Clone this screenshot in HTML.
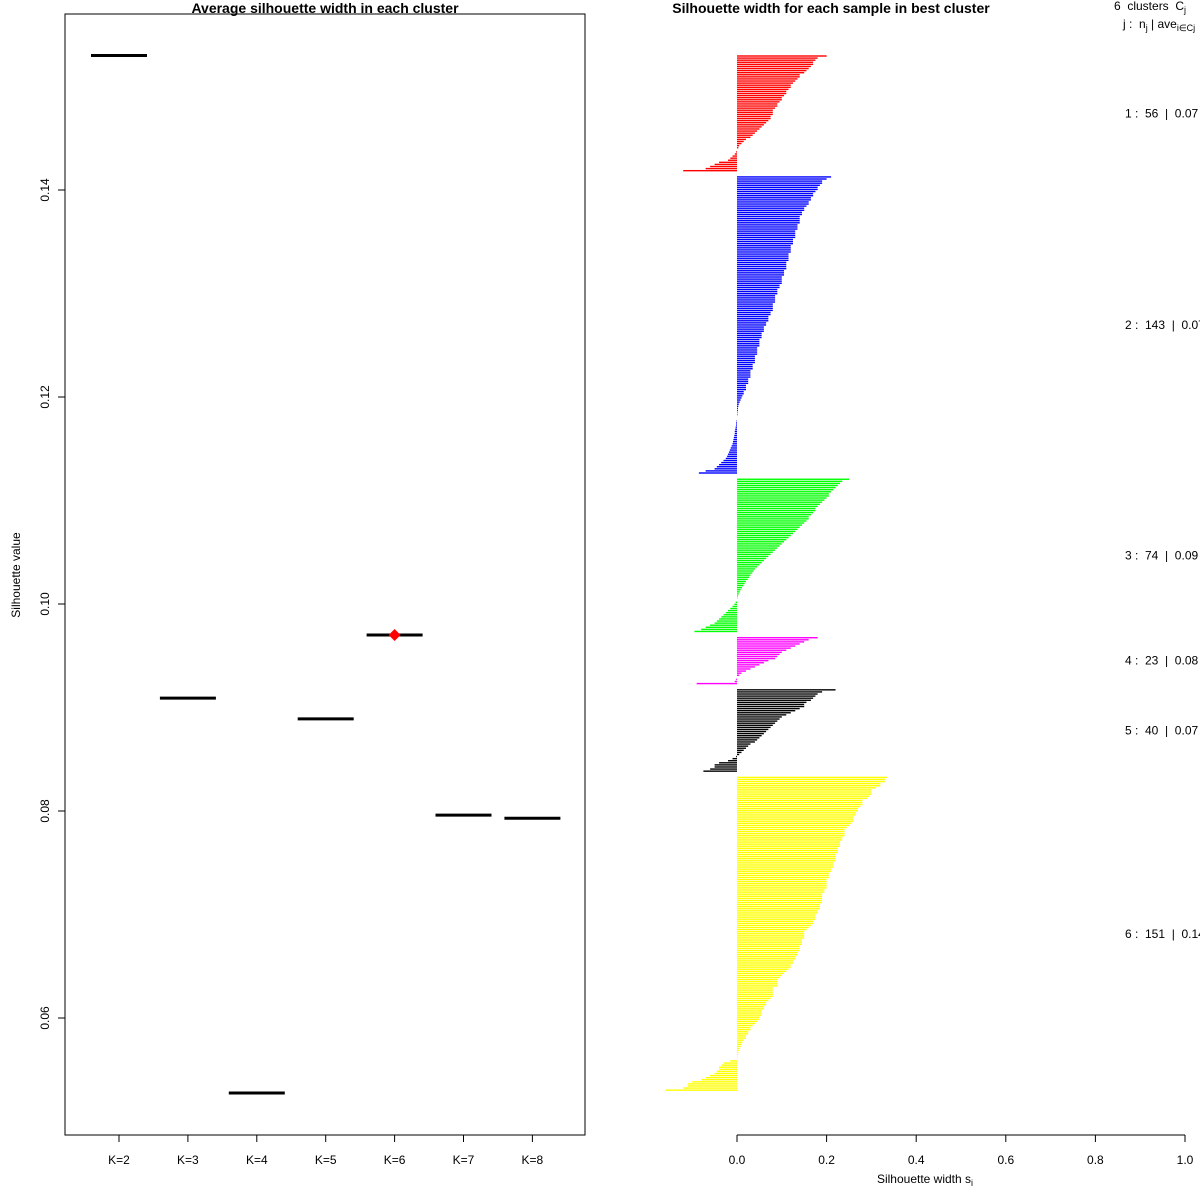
<!DOCTYPE html>
<html><head><meta charset="utf-8"><style>
body{margin:0;background:#fff;}
svg{display:block;font-family:"Liberation Sans",sans-serif;}
text{white-space:pre;}
</style></head><body>
<svg id="s" width="1200" height="1200" viewBox="0 0 1200 1200">
<rect width="1200" height="1200" fill="#fff"/>
<text x="325" y="13" text-anchor="middle" font-size="14" font-weight="bold">Average silhouette width in each cluster</text>
<rect x="65" y="14" width="520" height="1121" fill="none" stroke="#000" stroke-width="1"/>
<text transform="translate(20,575) rotate(-90)" text-anchor="middle" font-size="12">Silhouette value</text>
<g id="left"></g>
<text x="831" y="13" text-anchor="middle" font-size="14" font-weight="bold">Silhouette width for each sample in best cluster</text>
<text x="1114" y="10" font-size="12">6  clusters  C<tspan font-size="9" dy="3">j</tspan></text>
<text x="1123" y="28" font-size="12">j :  n<tspan font-size="9" dy="3">j</tspan><tspan dy="-3"> | ave</tspan><tspan font-size="9" dy="3">i∈Cj</tspan><tspan dy="-3">  s</tspan></text>
<g id="right"></g>
<text x="925" y="1183" text-anchor="middle" font-size="12">Silhouette width s<tspan font-size="9" dy="3">i</tspan></text>
</svg>
<script>
const kLabels=["K=2","K=3","K=4","K=5","K=6","K=7","K=8"];
const avgSil=[0.153,0.0909,0.05275,0.0889,0.0970,0.0796,0.0793];
const bestK=4;
const yTicks=[0.06,0.08,0.10,0.12,0.14];
const clusterIds=[1,2,3,4,5,6];
const clusterN=[56,143,74,23,40,151];
const clusterAvg=["0.07","0.07","0.09","0.08","0.07","0.14"];
const clusterColors=["#ff0000","#0000ff","#00ff00","#ff00ff","#000000","#ffff00"];
const c1=[.20,.18,.175,.17,.17,.165,.16,.155,.15,.14,.14,.135,.13,.125,.12,.12,.115,.11,.11,.105,.10,.10,.095,.09,.09,.085,.08,.08,.08,.075,.075,.07,.065,.06,.055,.05,.045,.04,.035,.03,.02,.015,.01,.005,.003,0,-.002,-.005,-.01,-.015,-.02,-.04,-.05,-.06,-.07,-.12];
const c2=[.21,.20,.19,.19,.185,.18,.18,.175,.17,.17,.165,.165,.16,.16,.155,.15,.15,.145,.145,.14,.14,.14,.14,.135,.135,.135,.13,.13,.13,.13,.125,.125,.125,.12,.12,.12,.12,.115,.115,.115,.115,.11,.11,.11,.11,.105,.105,.105,.10,.10,.10,.10,.095,.095,.09,.09,.09,.085,.085,.085,.085,.08,.08,.08,.08,.075,.075,.07,.07,.07,.065,.065,.06,.06,.06,.055,.055,.055,.05,.05,.05,.05,.045,.045,.045,.045,.04,.04,.04,.04,.035,.035,.035,.03,.03,.03,.03,.025,.025,.025,.02,.02,.02,.015,.015,.012,.01,.008,.006,.004,.003,.002,.002,.001,.001,0,0,-.001,-.002,-.002,-.003,-.004,-.005,-.005,-.006,-.007,-.008,-.009,-.01,-.012,-.014,-.016,-.018,-.02,-.022,-.025,-.03,-.035,-.04,-.045,-.05,-.07,-.085];
const c3=[.25,.235,.23,.225,.22,.215,.21,.205,.205,.20,.195,.19,.185,.18,.175,.175,.17,.165,.16,.16,.155,.15,.145,.14,.135,.13,.125,.12,.115,.11,.105,.10,.095,.09,.085,.08,.075,.07,.065,.06,.055,.05,.045,.04,.037,.034,.03,.027,.024,.02,.017,.014,.011,.008,.006,.004,.002,.001,0,-.003,-.006,-.01,-.015,-.02,-.025,-.03,-.035,-.04,-.045,-.05,-.06,-.07,-.08,-.095];
const c4=[.18,.16,.15,.14,.13,.12,.11,.10,.095,.09,.085,.07,.06,.05,.04,.03,.02,.01,.005,0,-.002,-.005,-.09];
const c5=[.22,.19,.18,.175,.17,.165,.155,.15,.15,.14,.13,.12,.11,.10,.095,.09,.085,.08,.075,.07,.065,.06,.055,.05,.045,.04,.03,.025,.02,.015,.01,.005,-.002,-.01,-.02,-.04,-.05,-.05,-.06,-.075];
const c6=[.335,.33,.33,.32,.32,.31,.30,.30,.30,.295,.29,.28,.28,.28,.275,.27,.27,.265,.265,.26,.26,.26,.255,.25,.245,.24,.24,.24,.24,.235,.235,.23,.23,.23,.225,.225,.225,.22,.22,.22,.22,.215,.215,.215,.21,.21,.205,.205,.205,.20,.20,.20,.20,.20,.195,.195,.19,.19,.19,.19,.19,.185,.185,.185,.18,.18,.175,.175,.175,.17,.17,.165,.16,.155,.15,.15,.15,.15,.145,.145,.145,.14,.14,.14,.135,.135,.13,.13,.125,.125,.12,.12,.115,.11,.105,.10,.095,.09,.09,.09,.09,.08,.08,.08,.08,.08,.075,.07,.065,.065,.06,.06,.055,.055,.055,.05,.05,.045,.04,.035,.03,.03,.025,.025,.02,.02,.015,.012,.01,.008,.006,.004,.003,.002,.001,0,-.015,-.03,-.035,-.04,-.04,-.045,-.05,-.06,-.07,-.08,-.1,-.11,-.11,-.12,-.16];
const xTicks=[0,0.2,0.4,0.6,0.8,1.0];
const xTickLabels=["0.0","0.2","0.4","0.6","0.8","1.0"];

const NS="http://www.w3.org/2000/svg";
function mk(p,tag,attrs){const e=document.createElementNS(NS,tag);for(const k in attrs)e.setAttribute(k,attrs[k]);p.appendChild(e);return e;}
const L=document.getElementById('left');
const ly=v=>604-(v-0.10)*10350;
const lx=i=>119+i*68.9;
yTicks.forEach((t,i)=>{
  const y=ly(t);
  const tk=mk(L,'line',{x1:58,x2:65,y1:y,y2:y,stroke:'#000'});
  
  
  const tx=mk(L,'text',{transform:`translate(49,${y}) rotate(-90)`,'text-anchor':'middle','font-size':12});
  tx.textContent=t.toFixed(2);
  
  
});
kLabels.forEach((k,i)=>{
  const x=lx(i);
  const tk=mk(L,'line',{x1:x,x2:x,y1:1135,y2:1142,stroke:'#000'});
  
  
  const tx=mk(L,'text',{x:x,y:1164,'text-anchor':'middle','font-size':12});
  tx.textContent=k;
  
  
  const seg=mk(L,'line',{x1:x-28,x2:x+28,y1:ly(avgSil[i]),y2:ly(avgSil[i]),stroke:'#000','stroke-width':3});
  
  
});
{const x=lx(bestK),y=ly(avgSil[bestK]);
 const d=mk(L,'polygon',{points:`${x},${y-6} ${x+6},${y} ${x},${y+6} ${x-6},${y}`,fill:'#ff0000'});
 
 }
const R=document.getElementById('right');
const rx=v=>737+v*448;
const clusters=[c1,c2,c3,c4,c5,c6];
const pitch=2.085;
let pos=0;
clusters.forEach((vals,ci)=>{
  const startPos=pos;
  vals.forEach(v=>{
    const y=56+pos*pitch;
    const x0=Math.min(rx(0),rx(v)),w=Math.abs(rx(v)-rx(0));
    const b=mk(R,'rect',{x:x0,y:y-0.7,width:Math.max(w,0.01),height:1.4,fill:clusterColors[ci]});
    
    
    pos++;
  });
  const cy=56+((startPos+pos-1)/2)*pitch;
  const t=mk(R,'text',{x:1125,y:cy+4,'font-size':12});
  t.textContent=`${clusterIds[ci]} :  ${clusterN[ci]}  |  ${clusterAvg[ci]}`;
  
  
  pos+=2;
});
const ax=mk(R,'line',{x1:rx(0),x2:rx(1),y1:1135,y2:1135,stroke:'#000'});


xTicks.forEach((t,i)=>{
  const x=rx(t);
  const tk=mk(R,'line',{x1:x,x2:x,y1:1135,y2:1142,stroke:'#000'});
  
  
  const tx=mk(R,'text',{x:x,y:1164,'text-anchor':'middle','font-size':12});
  tx.textContent=xTickLabels[i];
  
  
});
</script>
</body></html>
